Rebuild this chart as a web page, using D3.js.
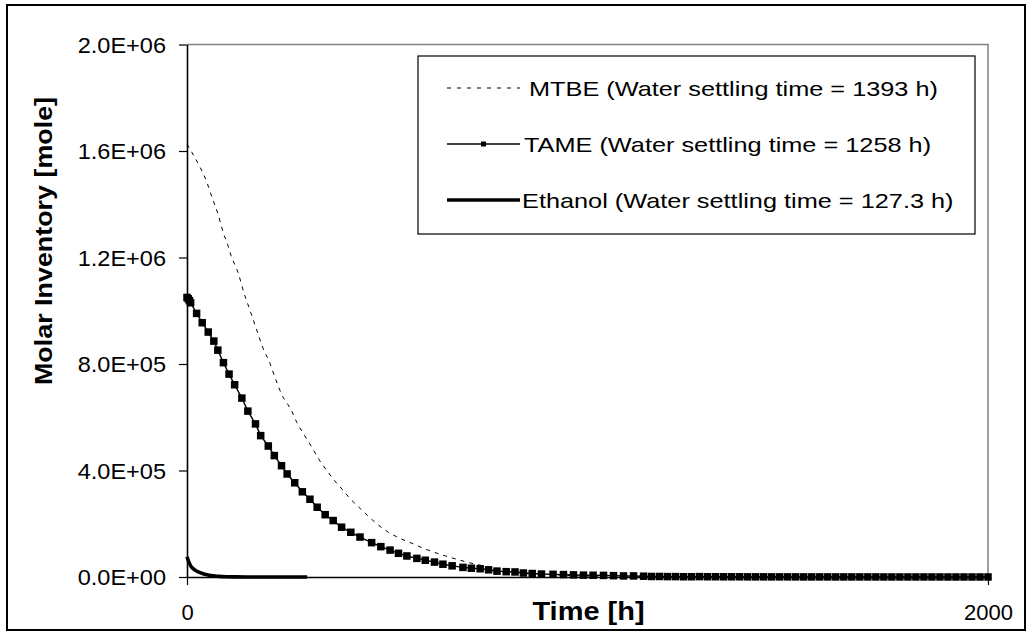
<!DOCTYPE html>
<html>
<head>
<meta charset="utf-8">
<script src="https://cdn.jsdelivr.net/npm/d3@7"></script>
<style>
  html, body { margin: 0; padding: 0; background: #fff; }
  svg { display: block; }
  text { font-family: "Liberation Sans", Arial, sans-serif; fill: #000; }
</style>
</head>
<body>
<svg id="chart" width="1027" height="632"></svg>
<script>
// ---------------- data ----------------
const seriesNames = ["MTBE", "TAME", "Ethanol"];
const legendLabels = [
  "MTBE (Water settling time = 1393 h)",
  "TAME (Water settling time = 1258 h)",
  "Ethanol (Water settling time = 127.3 h)"
];
const xTicks = [0, 2000];
const yTicks = [0, 400000, 800000, 1200000, 1600000, 2000000];
const xTitle = "Time [h]";
const yTitle = "Molar Inventory [mole]";

const mtbeTime = [0, 16, 32, 49, 62, 78, 84, 91, 101, 110, 128, 142, 157, 174, 189, 207, 222, 237, 261, 274,
  290, 311, 328, 349, 365, 390, 407, 432, 453, 478, 503, 532, 561, 590, 619, 652, 682, 707, 740, 780,
  820, 860, 900, 950, 1000, 1060, 1120, 1200, 1300, 1500, 1750, 2000];
const mtbeValue = [1626000, 1585000, 1541000, 1485000, 1428000, 1360000, 1328000, 1291000, 1251000, 1207000,
  1141000, 1068000, 1003000, 928000, 863000, 803000, 740000, 684000, 625000, 581000,
  540000, 489000, 445000, 400000, 368000, 325000, 295000, 258000, 228000, 195000,
  168000, 145000, 127000, 108000, 92000, 76000, 63000, 53000, 42000, 31000,
  22000, 15000, 10000, 6000, 3500, 2000, 1000, 500, 200, 100, 0, 0];

const tameTime = [0, 3, 6, 9, 24, 38, 53, 67, 77, 91, 105, 119, 137, 152, 171, 184, 203, 218, 236, 250,
  269, 288, 307, 325, 345, 365, 386, 409, 432, 461, 484, 507, 528, 549, 574, 595, 618, 639, 662, 689,
  710, 732, 753, 774, 797, 819, 840, 862, 885, 914, 940, 965, 990, 1014, 1040, 1065, 1090, 1115, 1140, 1160,
  1180, 1200, 1220, 1240, 1260, 1280, 1300, 1320, 1340, 1360, 1380, 1400, 1420, 1440, 1460, 1480, 1500, 1520,
  1540, 1560, 1580, 1600, 1620, 1640, 1660, 1680, 1700, 1720, 1740, 1760, 1780, 1800, 1820, 1840, 1860, 1880,
  1900, 1920, 1940, 1960, 1980, 2000];
const tameValue = [1050000, 1045000, 1038000, 1030000, 990000, 955000, 920000, 886000, 852000, 805000,
  762000, 722000, 672000, 623000, 575000, 531000, 492000, 456000, 418000, 387000,
  354000, 320000, 292000, 262000, 234000, 212000, 187000, 168000, 150000, 129000,
  114000, 101000, 89000, 79000, 70000, 63000, 56000, 48000, 42000, 36000,
  33000, 31000, 27000, 22000, 20000, 19000, 15000, 13000, 11000, 10000,
  9000, 8000, 7000, 6500, 6000, 5000, 4000, 4000, 3000, 2000,
  2000, 1500, 1500, 1000, 1000, 1500, 1000, 1000, 800, 800,
  800, 600, 600, 600, 500, 500, 500, 500, 400, 400,
  400, 400, 300, 300, 300, 300, 300, 300, 200, 200,
  200, 200, 200, 200, 200, 200, 100, 100, 100, 100,
  100, 100];

const ethanolTime = [0, 5, 10, 20, 30, 40, 50, 60, 70, 80, 100, 120, 150, 200, 250, 300];
const ethanolValue = [76000, 55000, 40000, 26000, 18000, 12500, 8500, 5500, 3500, 2200, 900, 400, 100, 0, 0, 0];

// ---------------- layout ----------------
const W = 1027, H = 632;
const plot = { left: 187, right: 988, top: 44.5, bottom: 577 };
const svg = d3.select("#chart");

svg.append("rect").attr("x", 0).attr("y", 0).attr("width", W).attr("height", H).attr("fill", "#fff");
// outer frame
svg.append("rect").attr("x", 7).attr("y", 5).attr("width", 1018).attr("height", 625)
  .attr("fill", "none").attr("stroke", "#000").attr("stroke-width", 2);

const x = d3.scaleLinear().domain([0, 2000]).range([plot.left, plot.right]);
const y = d3.scaleLinear().domain([0, 2000000]).range([plot.bottom, plot.top]);

// plot area border (gray top/right)
svg.append("path")
  .attr("d", `M${plot.left},${plot.top}H${plot.right}V${plot.bottom}`)
  .attr("fill", "none").attr("stroke", "#808080").attr("stroke-width", 1.5);

function sciFmt(v) {
  const s = v.toExponential(1); // e.g. 2.0e+6
  const [m, e] = s.split("e");
  const sign = e[0] === "-" ? "-" : "+";
  const ex = Math.abs(parseInt(e, 10)).toString().padStart(2, "0");
  return `${m}E${sign}${ex}`;
}

// Y axis
const yAxis = svg.append("g").attr("transform", `translate(${plot.left},0)`)
  .call(d3.axisLeft(y).tickValues(yTicks).tickFormat(sciFmt).tickSize(8).tickSizeOuter(0).tickPadding(0));
yAxis.select(".domain").attr("stroke", "#000").attr("stroke-width", 1.6);
yAxis.selectAll(".tick line").attr("stroke", "#000").attr("stroke-width", 1.2);
yAxis.selectAll(".tick text").text(null);
yAxis.selectAll(".tick").append("g")
  .attr("transform", `translate(-21,0) scale(1.07,1)`)
  .append("text").attr("text-anchor", "end").attr("dy", "0.36em")
  .style("font-size", "22px").text(d => sciFmt(d));

// X axis
const xAxis = svg.append("g").attr("transform", `translate(0,${plot.bottom})`)
  .call(d3.axisBottom(x).tickValues(xTicks).tickSize(8).tickSizeOuter(0));
xAxis.select(".domain").attr("stroke", "#000").attr("stroke-width", 1.6);
xAxis.selectAll(".tick line").attr("stroke", "#000").attr("stroke-width", 1.2);
xAxis.selectAll(".tick text").text(null);
xAxis.selectAll(".tick").append("text")
  .attr("y", 43).attr("text-anchor", "middle")
  .style("font-size", "22px").text(d => d);

// axis titles
svg.append("g").attr("transform", `translate(588.5,620) scale(1.16,1)`)
  .append("text").attr("text-anchor", "middle").style("font-size", "25px").style("font-weight", "bold")
  .text(xTitle);
svg.append("g").attr("transform", `translate(52,241) rotate(-90) scale(1.12,1)`)
  .append("text").attr("text-anchor", "middle").style("font-size", "24px").style("font-weight", "bold")
  .text(yTitle);

// ---------------- series ----------------
const mtbe = mtbeTime.map((t, i) => [t, mtbeValue[i]]);
const tame = tameTime.map((t, i) => [t, tameValue[i]]);
const ethanol = ethanolTime.map((t, i) => [t, ethanolValue[i]]);

const line = d3.line().x(d => x(d[0])).y(d => y(d[1])).curve(d3.curveMonotoneX);
const gPlot = svg.append("g");

gPlot.append("path").datum(mtbe).attr("d", line)
  .attr("fill", "none").attr("stroke", "#000").attr("stroke-width", 1).attr("stroke-dasharray", "4,5");

gPlot.append("path").datum(tame).attr("d", d3.line().x(d => x(d[0])).y(d => y(d[1])))
  .attr("fill", "none").attr("stroke", "#000").attr("stroke-width", 1.4);
const ms = 7.5;
gPlot.selectAll("rect.tame").data(tame).enter().append("rect").attr("class", "tame")
  .attr("x", d => x(d[0]) - ms / 2).attr("y", d => y(d[1]) - ms / 2)
  .attr("width", ms).attr("height", ms).attr("fill", "#000");

gPlot.append("path").datum(ethanol).attr("d", line)
  .attr("fill", "none").attr("stroke", "#000").attr("stroke-width", 3.6);

// ---------------- legend ----------------
const lg = svg.append("g");
lg.append("rect").attr("x", 418).attr("y", 56).attr("width", 557).attr("height", 178)
  .attr("fill", "#fff").attr("stroke", "#000").attr("stroke-width", 1.2);
const rowY = [88, 144, 200];
const textX = [529, 524, 522];
const styles = [
  { dash: "4,6", width: 1.2, marker: false },
  { dash: null, width: 1.3, marker: true },
  { dash: null, width: 3.6, marker: false }
];
seriesNames.forEach((name, i) => {
  const row = lg.append("g").attr("transform", `translate(0,${rowY[i]})`);
  row.append("line").attr("x1", 447).attr("x2", 520).attr("y1", 0).attr("y2", 0)
    .attr("stroke", "#000").attr("stroke-width", styles[i].width)
    .attr("stroke-dasharray", styles[i].dash);
  if (styles[i].marker) {
    row.append("rect").attr("x", 481).attr("y", -2.5).attr("width", 5).attr("height", 5).attr("fill", "#000");
  }
  row.append("g").attr("transform", `translate(${textX[i]},0) scale(1.205,1)`)
    .append("text").attr("dy", "0.36em").style("font-size", "21px").text(legendLabels[i]);
});
</script>
</body>
</html>
